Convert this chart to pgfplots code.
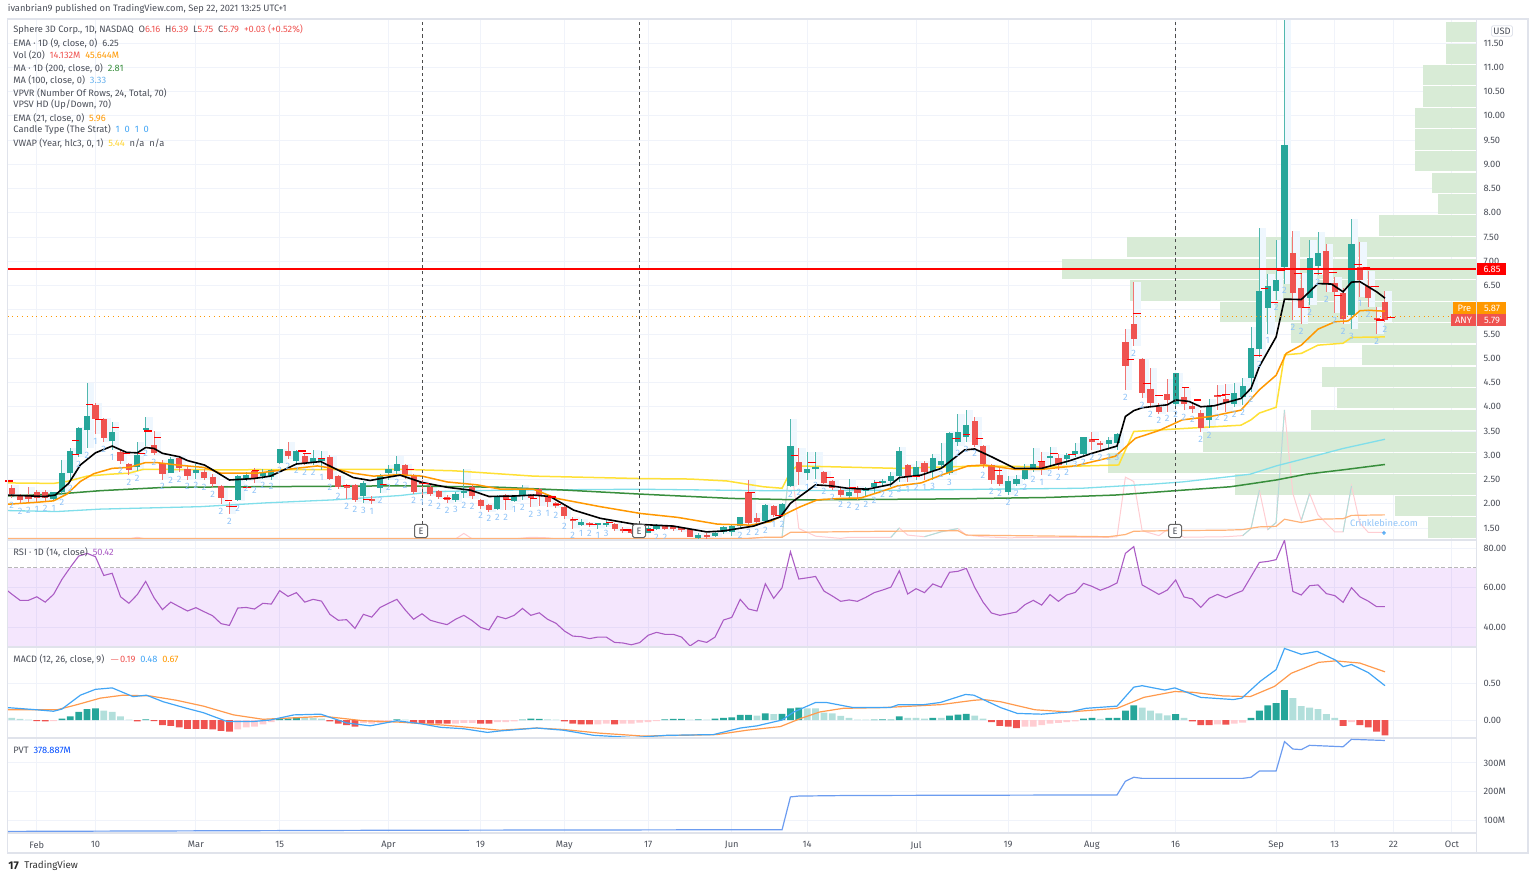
\documentclass[border=0pt]{standalone}
\usepackage{pgfplots}
\usepackage{pgfplotstable}
\usepackage{fontspec}
\pgfplotsset{compat=1.18}
\setmainfont{Fira Sans}
\definecolor{upc}{HTML}{26A69A}
\definecolor{dnc}{HTML}{EF5350}
\definecolor{ltup}{HTML}{B2DFDB}
\definecolor{ltdn}{HTML}{FFCDD2}
\definecolor{hdr}{HTML}{4A4E58}
\definecolor{frame}{HTML}{E0E3EB}
\definecolor{gridc}{HTML}{F0F3FA}
\definecolor{vp}{HTML}{D8EBD6}
\definecolor{orng}{HTML}{FF9800}
\definecolor{yel}{HTML}{FFEB3B}
\definecolor{ma2}{HTML}{388E3C}
\definecolor{ma1}{HTML}{80DEEA}
\definecolor{strat}{HTML}{90C4F8}
\definecolor{lil}{HTML}{9B1CED}
\definecolor{rsi}{HTML}{AB5CC4}
\definecolor{blu}{HTML}{42A5F5}
\definecolor{sig}{HTML}{FF9A4D}
\definecolor{pvt}{HTML}{6C9CF0}
\definecolor{shade}{HTML}{EFF7FE}
\newcommand\fs{\fontsize{4.65}{5.5}\selectfont}
\pgfplotstableread{
i o h l c s
0 2.33 2.39 2.11 2.20 2
1 2.16 2.20 1.99 2.08 2
2 2.19 2.34 2.02 2.09 2
3 2.24 2.28 2.04 2.11 1
4 2.24 2.28 2.06 2.11 2
5 2.09 2.25 2.06 2.24 1
6 2.25 2.90 2.18 2.63 2
7 2.64 3.14 2.46 3.09 2
8 3.03 3.59 2.96 3.56 2
9 3.52 4.48 3.14 3.81 2
10 4.04 4.07 3.44 3.74 1
11 3.74 3.76 3.28 3.36 2
12 3.30 3.68 3.11 3.47 1
13 3.07 3.11 2.83 2.89 2
14 2.81 2.85 2.59 2.70 2
15 2.75 3.28 2.68 3.00 2
16 3.54 3.78 3.19 3.56 2
17 3.21 3.50 3.00 3.05 2
18 2.85 2.90 2.50 2.61 2
19 2.64 2.96 2.63 2.93 2
20 2.95 2.98 2.66 2.74 2
21 2.72 2.77 2.50 2.57 2
22 2.64 2.83 2.52 2.70 2
23 2.65 2.71 2.49 2.54 2
24 2.56 2.61 2.35 2.41 2
25 2.37 2.39 1.99 2.11 2
26 1.96 2.04 1.79 1.93 2
27 2.08 2.59 2.06 2.57 2
28 2.52 2.66 2.46 2.59 2
29 2.68 2.73 2.42 2.54 2
30 2.57 2.71 2.52 2.63 2
31 2.55 2.71 2.50 2.70 2
32 2.85 3.12 2.83 3.12 2
33 3.09 3.28 2.92 2.99 2
34 2.88 3.11 2.83 3.09 2
35 2.99 3.04 2.80 2.85 2
36 2.85 3.11 2.80 2.94 2
37 2.89 3.09 2.70 2.93 1
38 2.97 3.00 2.49 2.52 2
39 2.57 2.59 2.30 2.34 2
40 2.37 2.40 2.10 2.34 2
41 2.39 2.41 2.04 2.08 2
42 2.16 2.46 2.01 2.43 3
43 2.09 2.15 1.99 2.07 1
44 2.32 2.61 2.22 2.59 2
45 2.63 2.80 2.49 2.71 2
46 2.68 2.98 2.59 2.81 2
47 2.80 2.83 2.52 2.59 2
48 2.59 2.61 2.21 2.25 2
49 2.45 2.49 2.18 2.41 1
50 2.35 2.39 2.15 2.20 2
51 2.26 2.28 2.09 2.13 2
52 2.13 2.18 2.02 2.08 2
53 2.08 2.25 2.04 2.20 3
54 2.24 2.72 2.11 2.26 2
55 2.35 2.39 2.09 2.15 2
56 2.08 2.09 1.90 1.95 2
57 1.97 1.99 1.84 1.87 2
58 1.89 2.18 1.87 2.15 2
59 2.19 2.21 1.87 2.08 2
60 2.06 2.18 2.04 2.15 1
61 2.18 2.39 2.08 2.32 2
62 2.18 2.21 1.94 2.11 2
63 2.30 2.32 1.95 2.15 3
64 2.15 2.18 1.94 2.04 1
65 2.01 2.04 1.92 1.95 2
66 1.94 1.97 1.68 1.75 2
67 1.68 1.73 1.49 1.64 2
68 1.56 1.68 1.54 1.63 1
69 1.61 1.63 1.53 1.56 2
70 1.56 1.61 1.49 1.60 1
71 1.56 1.68 1.53 1.61 3
72 1.58 1.61 1.44 1.47 2
73 1.49 1.53 1.40 1.44 2
74 1.46 1.49 1.37 1.40 2
75 1.42 1.51 1.39 1.49 2
76 1.40 1.54 1.39 1.51 2
77 1.49 1.58 1.46 1.56 2
78 1.54 1.56 1.46 1.49 2
79 1.53 1.56 1.44 1.47 2
80 1.51 1.53 1.42 1.46 2
81 1.47 1.49 1.31 1.32 2
82 1.29 1.39 1.27 1.35 2
83 1.36 1.40 1.28 1.33 2
84 1.33 1.42 1.31 1.39 2
85 1.41 1.54 1.37 1.53 1
86 1.42 1.56 1.33 1.54 1
87 1.54 1.73 1.49 1.72 2
88 2.24 2.49 1.56 1.60 2
89 1.70 1.80 1.56 1.63 2
90 1.65 1.99 1.61 1.97 2
91 1.95 1.97 1.72 1.77 1
92 1.77 2.01 1.73 1.99 2
93 2.37 3.75 2.34 3.20 2
94 2.87 3.14 2.39 2.66 2
95 2.64 3.07 2.49 2.71 1
96 2.72 3.07 2.52 2.76 2
97 2.66 2.68 2.41 2.43 2
98 2.47 2.49 2.28 2.32 2
99 2.28 2.32 2.14 2.18 2
100 2.17 2.52 2.11 2.24 2
101 2.31 2.37 2.08 2.22 2
102 2.27 2.35 2.14 2.32 2
103 2.34 2.49 2.21 2.42 2
104 2.44 2.52 2.35 2.47 2
105 2.47 2.66 2.34 2.57 2
106 2.57 3.18 2.45 3.09 3
107 2.80 2.83 2.45 2.58 1
108 2.59 2.89 2.49 2.76 2
109 2.85 2.88 2.49 2.66 1
110 2.68 3.03 2.50 2.94 3
111 2.80 3.25 2.76 2.89 2
112 2.63 3.47 2.59 3.45 3
113 3.27 3.86 3.19 3.49 2
114 3.37 3.93 3.28 3.62 2
115 3.71 3.79 3.18 3.22 2
116 3.20 3.21 2.73 2.82 2
117 2.80 2.83 2.41 2.49 2
118 2.59 2.73 2.37 2.41 2
119 2.25 2.57 2.18 2.47 2
120 2.41 2.59 2.37 2.51 2
121 2.51 2.83 2.49 2.69 2
122 2.69 3.16 2.66 2.82 2
123 2.86 3.07 2.59 2.71 1
124 2.95 3.18 2.77 2.97 2
125 2.94 3.03 2.70 2.80 2
126 2.92 3.05 2.80 3.00 2
127 3.02 3.26 2.97 3.09 3
128 3.02 3.38 3.00 3.37 2
129 3.33 3.47 3.11 3.28 2
130 3.25 3.30 3.11 3.21 2
131 3.23 3.37 3.11 3.31 2
132 3.26 3.45 3.11 3.44 3
133 5.34 5.60 4.35 4.85 2
134 5.71 6.58 5.25 5.39 2
135 4.98 5.00 4.18 4.28 2
136 4.36 4.79 4.00 4.08 2
137 4.00 4.07 3.86 3.90 2
138 4.26 4.57 3.90 4.14 2
139 4.06 4.70 4.00 4.69 2
140 4.21 4.38 3.93 4.06 2
141 4.02 4.07 3.88 3.95 2
142 3.87 3.93 3.48 3.56 2
143 3.73 4.16 3.56 3.99 2
144 4.24 4.45 3.93 4.20 2
145 4.17 4.47 3.90 4.08 2
146 4.06 4.48 4.00 4.28 2
147 4.21 4.59 4.04 4.43 2
148 4.60 5.65 4.31 5.22 2
149 5.19 7.68 5.03 6.39 2
150 6.04 6.74 5.51 6.49 1
151 6.39 7.44 6.20 6.61 2
152 6.89 12.00 6.54 9.40 2
153 7.18 7.62 5.79 6.35 2
154 6.44 6.75 5.71 6.04 2
155 6.24 7.44 6.10 7.06 2
156 6.90 7.60 6.72 7.18 2
157 7.22 7.36 6.37 6.55 2
158 6.55 6.68 5.93 6.37 2
159 6.34 6.44 5.71 5.80 2
160 5.89 7.88 5.60 7.35 3
161 6.89 7.39 6.27 6.61 1
162 6.48 6.79 6.06 6.24 2
163 5.82 6.05 5.49 5.79 2
164 6.16 6.39 5.75 5.79 2
}\C
\pgfplotstableread{
i p
-0.3 2.47
7.6 3.31
7.6 3.02
9.3 4.05
10.4 3.73
12.4 3.57
13.7 3.03
16.3 3.50
17.4 3.36
15.5 3.04
25.9 2.06
26.4 1.94
28.1 2.33
29.1 2.68
34.7 3.09
35.3 3.03
37 2.94
40 2.37
42.4 2.08
44.4 2.39
47.6 2.70
49.4 2.42
52 2.11
59.2 2.09
62.3 2.11
64.5 2.14
65.1 1.99
67.2 1.68
69.4 1.58
71.4 1.61
73.5 1.46
76.3 1.46
88.3 2.23
91.6 1.76
93.5 3.00
95.6 2.85
97.7 2.54
100.4 2.34
103.4 2.44
108 2.57
112.8 3.35
114 3.42
115.6 3.35
117.8 2.69
123 2.87
124.5 3.04
126.6 3.02
129.4 3.33
133.6 4.98
134.4 5.93
135.6 4.48
137 4.23
140.2 4.39
141.6 4.14
144.4 4.24
145 4.26
148.8 5.05
149.6 6.44
150.8 6.15
151.6 6.81
153.6 6.75
154.6 6.04
156 6.74
157.8 6.77
158.4 6.30
160.8 6.94
161.8 6.87
162.8 6.48
163.4 5.79
164.7 5.84
}\T
\pgfplotstableread{
i p
-0.5 2.18
1 2.17
4 2.15
5.2 2.18
6.8 2.42
8.2 2.80
10 3.05
12 3.19
13.7 3.06
15 3.05
16 3.16
17 3.14
18 3.04
20 2.97
21 2.89
23 2.80
24 2.70
26 2.49
28.9 2.52
30.9 2.57
32.9 2.73
34 2.82
36.9 2.87
38.8 2.71
40.8 2.54
42.8 2.48
45 2.55
46.4 2.59
49 2.44
52 2.34
54.8 2.28
57 2.15
60 2.16
62.3 2.18
64.3 2.15
67.1 1.87
70.3 1.70
74.3 1.58
79 1.54
83 1.42
85 1.44
88.6 1.54
91.8 1.73
93 2.01
96 2.39
97.8 2.37
99.8 2.32
102.2 2.30
105 2.40
106 2.54
108.6 2.59
111 2.73
113.8 3.11
115 3.13
117 2.97
119.8 2.73
123 2.73
126.4 2.89
129 3.04
132 3.19
133 3.80
134 3.92
135 3.98
138 4.04
139 4.14
140.6 4.11
142 4.00
143.6 4.02
146.8 4.17
148 4.38
149 4.83
151 5.44
152 6.22
154 6.21
156 6.54
157.6 6.53
159 6.37
160 6.57
161 6.58
163 6.37
164 6.24
}\Ea
\pgfplotstableread{
i p
-0.5 1.99
3 2.03
5 2.06
6.6 2.20
8.2 2.46
9.8 2.62
12 2.73
14 2.75
16 2.85
17.3 2.85
19.7 2.80
22.9 2.75
25 2.63
29.3 2.63
32.9 2.71
36.5 2.78
38.4 2.73
40.8 2.63
43.2 2.57
46.2 2.60
49 2.57
52 2.45
55.6 2.39
58.4 2.30
62.3 2.30
65.1 2.11
70.3 1.94
75.1 1.80
79.5 1.72
84.3 1.58
88.2 1.56
90.6 1.63
93 1.84
94.2 1.94
96.2 2.08
99 2.11
101.4 2.12
103.8 2.25
105.8 2.37
108.6 2.43
111 2.59
114.2 2.78
116.2 2.80
119.8 2.71
123 2.71
127 2.78
131.8 2.98
134.2 3.35
137 3.51
139.8 3.73
143.2 3.80
146.8 3.93
149 4.35
151 4.65
152.2 5.10
154 5.27
156 5.60
158 5.75
159.6 5.77
161 5.98
162 5.99
164 5.97
}\Eb
\pgfplotstableread{
i p
-0.5 2.43
5 2.42
6.6 2.46
9 2.57
11.8 2.61
14 2.63
15.7 2.71
25.3 2.70
46.4 2.71
52.8 2.68
62.3 2.57
75 2.52
81 2.51
85.4 2.47
89.8 2.35
92 2.32
93 2.66
93.8 2.78
105.8 2.73
115.8 2.78
123.8 2.76
132.2 2.80
134 3.49
139.8 3.55
146.8 3.62
148 3.73
149 3.87
151 3.99
152 5.07
154 5.10
156 5.27
159 5.31
160 5.43
164 5.44
}\Vw
\pgfplotstableread{
i p
-0.5 2.16
5.4 2.20
10.6 2.27
18.5 2.34
46.4 2.37
58.4 2.34
66.3 2.28
75 2.20
86 2.11
94.2 2.08
111.8 2.10
123.8 2.13
131.8 2.18
139.8 2.28
145.5 2.35
147.9 2.41
151 2.49
154.6 2.61
159 2.70
164 2.81
}\Mb
\pgfplotstableread{
i p
-0.5 1.86
5.4 1.84
10.6 1.89
22.5 1.94
30.5 2.02
38.4 2.08
46.4 2.17
50.4 2.25
58.4 2.28
75 2.30
90 2.27
105.8 2.28
127.8 2.32
135.8 2.40
139.8 2.45
145.5 2.56
147.9 2.61
151 2.78
154.6 2.94
159 3.14
164 3.33
}\Ma
\pgfplotstableread{
p left
1.51 169.1
1.95 165.2
2.40 146.1
2.84 130.9
3.28 142.3
3.73 155.2
4.18 158.3
4.61 156.5
5.07 161.2
5.52 152.8
5.95 144.3
6.40 133.5
6.84 125.4
7.29 133.2
7.74 163.3
8.18 170.3
8.62 169.6
9.07 167.6
9.51 167.6
9.95 167.6
10.40 168.5
10.84 168.5
11.28 171.3
11.73 171.3
}\VP
\pgfplotstableread{
i v
-0.5 2
14 2
15 5
16 2
53 2
54 12
55 2
60 2
62 5
64 4
65 2
88 3
90 5
92 5
93 150
94 21
96 7
99 3
100 5
103 5
105 5
106 22
107 9
109 6
111 15
113 21
114 9
116 6
119 4
124 5
131 5
132 6
133 115
134 107
135 17
137 8
138 19
140 5
145 6
147 8
148 21
149 91
150 19
151 32
152 238
153 85
154 36
155 85
156 46
158 15
159 15
160 99
161 31
162 14
164 14
}\Vol
\pgfplotstableread{
i v
92 5
93 150
nan nan
105 5
106 22
nan nan
109 6
111 15
113 21
nan nan
147 8
148 21
149 91
nan nan
150 19
151 32
152 238
nan nan
154 36
155 85
nan nan
159 15
160 99
}\VolUp
\pgfplotstableread{
i v
-0.5 3
88 3
90 5
92 5
93 14
104 16
113 17
114 9
131 6
133 10
134 16
138 17
145 18
147 19
149 24
151 25
152 38
154 32
156 38
159 39
160 45
164 46
}\VolMA
\pgfplotstableread{
i v
-0.5 58.5
0 56.8
1 53.6
2 53.6
3 55.4
4 52.7
5 56.6
6 64.2
7 70.3
8 76
9 77.4
10 75.7
11 66.2
12 67.3
13 55.4
14 52.1
15 56.5
16 63.2
17 54.9
18 48.9
19 52.7
20 50.4
21 48.2
22 49.9
23 47.8
24 45.8
25 41.8
26 40.9
27 49.7
28 50
29 49.2
30 52.1
31 51.7
32 58.5
33 55.6
34 57.5
35 52.7
36 54.1
37 53.2
38 46.5
39 43.5
40 43.8
41 39.4
42 46.5
43 45.1
44 50
45 52.1
46 54.1
47 48.7
48 44
49 46.8
50 43.5
51 42.3
52 41.3
53 44
54 46
55 43.3
56 39.9
57 38.6
58 45.5
59 44.3
60 46
61 49.5
62 46
63 47.3
64 44
65 42
66 38.1
67 35.5
68 35.2
69 34.2
70 35
71 35
72 32.3
73 32
74 31.1
75 32.2
76 35.9
77 37.4
78 36.4
79 36.4
80 35
81 30.5
82 33.3
83 32.3
84 35
85 43.6
86 45
87 54.1
88 49.2
89 48.2
90 62
91 54.6
92 60
93 78.2
94 64.4
95 65
96 65.7
97 58.3
98 55.8
99 53.1
100 53.8
101 53.1
102 55.1
103 57.5
104 58.8
105 60.3
106 68.6
107 56.8
108 59.5
109 57.5
110 61.9
111 60.2
112 67.8
113 68.3
114 69.8
115 60.2
116 52.7
117 47.2
118 46
119 46.8
120 47.7
121 51.4
122 53.6
123 51.2
124 56.5
125 53.1
126 56.3
127 57.6
128 62.2
129 60.7
130 58.7
131 60.3
132 62.4
133 77.4
134 80.8
135 61.4
136 59
137 56.6
138 58.8
139 63.9
140 55.3
141 54.3
142 50
143 54.6
144 56.6
145 54.9
146 56.8
147 58.5
148 65.6
149 72.8
150 73.3
151 74.2
152 84
153 58.1
154 56.3
155 61
156 61.4
157 57
158 56
159 52.6
160 60
161 55.4
162 53.2
163 50.4
164 50.4
}\R
\pgfplotstableread{
i h
6 .02
7 .05
8 .11
9 .15
10 .16
16 .01
32 .02
33 .02
34 .04
46 .01
61 .005
62 .02
63 .015
78 .01
79 .015
80 .015
82 .01
84 .02
85 .03
86 .035
87 .07
88 .07
90 .09
92 .085
93 .16
94 .17
103 .005
104 .01
105 .005
106 .05
110 .03
112 .06
113 .075
114 .085
128 .02
129 .03
131 .03
132 .03
133 .13
134 .20
139 .08
148 .03
149 .13
150 .20
151 .23
152 .41
}\Hup
\pgfplotstableread{
i h
0 .03
1 .015
2 .005
11 .13
12 .11
13 .05
14 .005
35 .04
36 .03
37 .02
47 .005
64 .01
65 .005
81 .005
83 .005
89 .06
91 .08
95 .16
96 .16
97 .10
98 .09
99 .055
100 .03
101 .005
102 .005
107 .03
108 .03
109 .02
111 .03
115 .06
116 .02
130 .015
135 .17
136 .13
137 .09
138 .065
140 .03
153 .30
154 .19
155 .17
156 .15
157 .08
158 .03
}\Hlu
\pgfplotstableread{
i h
3 -.015
4 -.02
15 -.02
17 -.015
18 -.07
19 -.08
20 -.10
21 -.12
22 -.12
23 -.12
24 -.13
25 -.15
26 -.16
38 -.02
39 -.05
40 -.07
41 -.09
48 -.04
49 -.04
50 -.05
51 -.05
52 -.05
56 -.05
57 -.05
66 -.02
67 -.05
68 -.06
69 -.06
72 -.06
117 -.03
118 -.08
119 -.09
120 -.11
141 -.02
142 -.07
143 -.07
145 -.065
159 -.08
161 -.07
162 -.10
163 -.16
164 -.21
}\Hdn
\pgfplotstableread{
i h
5 -.015
27 -.13
28 -.10
29 -.09
30 -.06
31 -.03
42 -.04
43 -.05
44 -.04
45 -.03
53 -.05
54 -.04
55 -.04
58 -.03
59 -.03
60 -.02
70 -.06
71 -.05
73 -.05
74 -.05
75 -.035
76 -.03
77 -.015
121 -.09
122 -.09
123 -.07
124 -.05
125 -.04
126 -.03
127 -.02
144 -.06
146 -.05
147 -.035
160 -.03
}\Hld
\pgfplotstableread{
i v
-0.5 .17
3 .14
5 .12
6 .15
8.2 .34
10 .42
12 .44
14.5 .32
16.1 .34
18.1 .25
20.9 .16
22.9 .10
25.7 -.02
28.9 -.02
30.9 0
33.7 .07
36.9 .08
40 -.04
42.8 -.08
46 -.01
48.8 -.05
51.2 -.10
54 -.12
56.8 -.17
58.3 -.15
62.7 -.11
65.9 -.14
69.5 -.21
74.2 -.24
78.2 -.21
83.8 -.20
87 -.11
89 -.08
92 0
93.4 .11
96 .24
97.3 .24
100.5 .17
104.9 .17
105.9 .21
108.9 .21
110.9 .24
113.9 .35
114.9 .34
118.1 .17
120.1 .09
123 .08
126.3 .11
128.3 .16
132 .19
134 .45
135 .47
137.7 .41
138.9 .44
142 .31
145.9 .28
146.9 .30
149.1 .53
151 .69
152 .98
154 .90
155.9 .94
158.1 .82
159 .73
160 .76
162 .65
164 .47
}\Mc
\pgfplotstableread{
i v
-0.5 .14
5.4 .14
7.8 .21
10.6 .30
13.3 .34
16.5 .33
19.7 .27
22.9 .19
26.5 .07
30 .01
33.7 .03
37.3 .05
42 -.01
46.4 -.03
51.6 -.07
58.3 -.14
62.7 -.11
65.9 -.13
70.2 -.18
75.4 -.22
84.2 -.20
87.8 -.14
91.8 -.09
94.2 .02
96.5 .11
99.3 .16
104.1 .17
110.9 .21
114.9 .27
116.1 .28
118.1 .25
122.2 .14
126.3 .11
132 .16
135.2 .31
138.9 .39
141 .38
144.6 .33
147.9 .32
150.8 .46
152.8 .64
156.1 .79
158.1 .81
161 .78
164 .66
}\Sg
\pgfplotstableread{
i v
-0.5 60
45 64
92 66
93 181
94 184
100 186
132 188
133 236
134 250
135 246
147 246
148 250
149 272
151 272
152 375
153 349
154 347
155 362
159 357
160 383
164 379
}\Pv
\newcommand\lab[3]{\node[anchor=west,inner sep=0pt,font=\fs,text=hdr] at (#1,{879-#2}) {#3};}
\pgfplotsset{pane/.style={
  scale only axis,width=734.5pt,anchor=south west,
  xmin=-0.5,xmax=174.93,
  xtick={3,10,22,32,45,56,66,76,86,95,108,119,129,139,151,158,165,172},
  xticklabels={},
  tick style={draw=none},
  major grid style={draw=gridc,line width=.5pt},
  grid=major,
  axis line style={draw=frame,line width=.6pt},
  yticklabel pos=right,
  tick label style={font=\fs,text=hdr},
  y tick label style={anchor=west,xshift=0pt},
  /pgf/number format/assume math mode=true,
}}
\begin{document}
\begin{tikzpicture}[x=.5pt,y=.5pt]
\path[use as bounding box] (0,0) rectangle (1536,879);
% main pane
\begin{axis}[pane,at={(3.75pt,169.5pt)},height=260.5pt,ymin=1.253,ymax=11.995,
  ytick={1.5,2,2.5,3,3.5,4,4.5,5,5.5,6.5,7,7.5,8,8.5,9,9.5,10,10.5,11,11.5},
  extra y ticks={6},extra y tick labels={},
  y tick label style={/pgf/number format/fixed,/pgf/number format/fixed zerofill,/pgf/number format/precision=2}]
\addplot[draw=none,mark=none,error bars/.cd,x dir=minus,x explicit,error mark=none,error bar style={line width=10.15pt,color=vp}]
  table[x expr=174.93,y=p,x error expr={174.93-\thisrow{left}}]{\VP};
\addplot[draw=none,mark=none,error bars/.cd,y dir=both,y explicit,error mark=none,error bar style={line width=3.6pt,color=shade}]
  table[x expr=\thisrow{i}+0.4,y expr={(\thisrow{h}+\thisrow{l})/2},y error expr={(\thisrow{h}-\thisrow{l})/2}]{\C};
% volume
\addplot[ltdn,line width=.5pt] table[x=i,y expr=1.253+\thisrow{v}*0.01127]{\Vol};
\addplot[ltup,line width=.5pt,unbounded coords=jump] table[x=i,y expr=1.253+\thisrow{v}*0.01127]{\VolUp};
\addplot[sig!75,line width=.6pt] table[x=i,y expr=1.253+\thisrow{v}*0.01127]{\VolMA};
% averages below candles
\addplot[ma1,line width=.65pt] table[x=i,y=p]{\Ma};
\addplot[ma2,line width=.75pt] table[x=i,y=p]{\Mb};
\addplot[yel!90!orange,line width=.75pt] table[x=i,y=p]{\Vw};
% wicks
\addplot[draw=none,mark=none,error bars/.cd,y dir=both,y explicit,error mark=none,error bar style={line width=.5pt,color=upc!80}]
  table[x=i,y expr={\thisrow{c}>=\thisrow{o}?(\thisrow{h}+\thisrow{l})/2:nan},y error expr={(\thisrow{h}-\thisrow{l})/2}]{\C};
\addplot[draw=none,mark=none,error bars/.cd,y dir=both,y explicit,error mark=none,error bar style={line width=.5pt,color=dnc!80}]
  table[x=i,y expr={\thisrow{c}<\thisrow{o}?(\thisrow{h}+\thisrow{l})/2:nan},y error expr={(\thisrow{h}-\thisrow{l})/2}]{\C};
% bodies
\addplot[draw=none,mark=none,error bars/.cd,y dir=both,y explicit,error mark=none,error bar style={line width=3.1pt,color=upc}]
  table[x=i,y expr={\thisrow{c}>=\thisrow{o}?(\thisrow{o}+\thisrow{c})/2:nan},y error expr={max(abs(\thisrow{o}-\thisrow{c})/2,0.015)}]{\C};
\addplot[draw=none,mark=none,error bars/.cd,y dir=both,y explicit,error mark=none,error bar style={line width=3.1pt,color=dnc}]
  table[x=i,y expr={\thisrow{c}<\thisrow{o}?(\thisrow{o}+\thisrow{c})/2:nan},y error expr={max(abs(\thisrow{o}-\thisrow{c})/2,0.015)}]{\C};
% red ticks
\addplot[only marks,mark=-,mark size=1.9pt,mark options={draw=red,line width=.6pt}] table[x=i,y=p]{\T};
% EMAs
\addplot[orng,line width=.75pt] table[x=i,y=p]{\Eb};
\addplot[black,line width=.8pt] table[x=i,y=p]{\Ea};
% strat numbers
\addplot[draw=none,mark=none,nodes near coords,point meta=explicit symbolic,
  nodes near coords style={anchor=center,inner sep=0pt,yshift=-3.6pt,font=\fs,text=strat}]
  table[x=i,y expr={\thisrow{l}<1.46?nan:\thisrow{l}},meta=s]{\C};
% levels
\addplot[red,line width=1pt] coordinates {(-0.5,6.85)(174.93,6.85)};
\addplot[orng,line width=.4pt,dotted] coordinates {(-0.5,5.87)(174.93,5.87)};
\addplot[black!70,line width=.4pt,dash pattern=on 1.6pt off 1.6pt] coordinates {(49,1.45)(49,11.995)};
\addplot[black!70,line width=.4pt,dash pattern=on 1.6pt off 1.6pt] coordinates {(75,1.45)(75,11.995)};
\addplot[black!70,line width=.4pt,dash pattern=on 1.6pt off 1.6pt] coordinates {(139,1.45)(139,11.995)};
\end{axis}
% RSI
\begin{axis}[pane,at={(3.75pt,116pt)},height=53.5pt,ymin=29.97,ymax=84.15,ytick={40,60,80},
  y tick label style={/pgf/number format/fixed,/pgf/number format/fixed zerofill,/pgf/number format/precision=2}]
\addplot[draw=none,fill=lil,fill opacity=.11] coordinates {(-0.5,29.97)(174.93,29.97)(174.93,70)(-0.5,70)} -- cycle;
\addplot[black!28,line width=.5pt,dash pattern=on 2pt off 1.2pt] coordinates {(-0.5,70)(174.93,70)};
\addplot[black!28,line width=.5pt,dash pattern=on 2pt off 1.2pt] coordinates {(-0.5,30.35)(174.93,30.35)};
\addplot[rsi,line width=.55pt] table[x=i,y=v]{\R};
\end{axis}
% MACD
\begin{axis}[pane,at={(3.75pt,70.5pt)},height=45.5pt,ymin=-.2466,ymax=1,ytick={0,.5},
  y tick label style={/pgf/number format/fixed,/pgf/number format/fixed zerofill,/pgf/number format/precision=2}]
\addplot[ybar,bar width=3.4pt,bar shift=0pt,fill=upc,draw=none] table[x=i,y=h]{\Hup};
\addplot[ybar,bar width=3.4pt,bar shift=0pt,fill=ltup,draw=none] table[x=i,y=h]{\Hlu};
\addplot[ybar,bar width=3.4pt,bar shift=0pt,fill=dnc,draw=none] table[x=i,y=h]{\Hdn};
\addplot[ybar,bar width=3.4pt,bar shift=0pt,fill=ltdn,draw=none] table[x=i,y=h]{\Hld};
\addplot[sig,line width=.6pt] table[x=i,y=v]{\Sg};
\addplot[blu,line width=.6pt] table[x=i,y=v]{\Mc};
\end{axis}
% PVT
\begin{axis}[pane,at={(3.75pt,23pt)},height=47.5pt,ymin=54.4,ymax=387.7,ytick={100,200,300},
  yticklabels={100M,200M,300M},
  xticklabels={Feb,10,Mar,15,Apr,19,May,17,Jun,14,Jul,19,Aug,16,Sep,13,22,Oct},
  x tick label style={yshift=-.5pt}]
\addplot[pvt,line width=.6pt] table[x=i,y=v]{\Pv};
\end{axis}
% frame
\draw[frame,line width=.6pt] (7.5,26) rectangle (1528,860);
\draw[frame,line width=.6pt] (1476.5,26) -- (1476.5,860);
% header
\lab{7.5}{9}{\textcolor{hdr}{ivanbrian9 published on TradingView.com, Sep 22, 2021 13:25 UTC+1}}
\lab{13}{30}{Sphere 3D Corp., 1D, NASDAQ\ \ O\textcolor{dnc}{6.16}\ \ H\textcolor{dnc}{6.39}\ \ L\textcolor{dnc}{5.75}\ \ C\textcolor{dnc}{5.79}\ \ \textcolor{dnc}{+0.03 (+0.52\%)}}
\lab{13}{43}{EMA · 1D (9, close, 0)\ \ 6.25}
\lab{13}{55}{Vol (20)\ \ \textcolor{dnc}{14.132M}\ \ \textcolor{orng}{45.644M}}
\lab{13}{68}{MA · 1D (200, close, 0)\ \ \textcolor{ma2}{2.81}}
\lab{13}{80}{MA (100, close, 0)\ \ \textcolor{ma1!80!blue}{3.33}}
\lab{13}{93}{VPVR (Number Of Rows, 24, Total, 70)}
\lab{13}{105}{VPSV HD (Up/Down, 70)}
\lab{13}{118}{EMA (21, close, 0)\ \ \textcolor{orng}{5.96}}
\lab{13}{130}{Candle Type (The Strat)\ \ \textcolor{blu}{1\ \ 0\ \ 1\ \ 0}}
\lab{13}{143}{VWAP (Year, hlc3, 0, 1)\ \ \textcolor{yel!80!orange}{5.44}\ \ n/a\ \ n/a}
\lab{13}{552}{RSI · 1D (14, close)\ \ \textcolor{rsi}{50.42}}
\lab{13}{659}{MACD (12, 26, close, 9)\ \ \textcolor{dnc}{$-$0.19}\ \ \textcolor{blu}{0.48}\ \ \textcolor{orng}{0.67}}
\lab{13}{750}{PVT\ \ \textcolor{blue!70!cyan}{378.887M}}
% right labels
\node[draw=frame,rounded corners=.8pt,inner sep=1pt,font=\fs,text=hdr,fill=white] at (1502,{879-31}) {USD};
\fill[red] (1477,{879-275}) rectangle (1506,{879-263});
\node[font=\fs,text=white,inner sep=0pt] at (1492,{879-269}) {6.85};
\fill[orng] (1453,{879-314}) rectangle (1476,{879-302});
\fill[orng] (1477,{879-314}) rectangle (1506,{879-302});
\node[font=\fs,text=white,inner sep=0pt] at (1464.5,{879-308}) {Pre};
\node[font=\fs,text=white,inner sep=0pt] at (1492,{879-308}) {5.87};
\fill[dnc] (1451,{879-326}) rectangle (1476,{879-314.5});
\fill[dnc] (1477,{879-326}) rectangle (1506,{879-314.5});
\node[font=\fs,text=white,inner sep=0pt] at (1463.5,{879-320}) {ANY};
\node[font=\fs,text=white,inner sep=0pt] at (1492,{879-320}) {5.79};
% E boxes
\foreach \x in {421,639,1175}{
  \node[draw=black!60,fill=white,rounded corners=.8pt,line width=.5pt,font=\fs,text=hdr,minimum width=6.5pt,minimum height=6.5pt,inner sep=0pt] at (\x,{879-531}) {E};
}
% watermark
\node[font=\fs,text=strat] at (1384,{879-523}) {Crinklebine.com};
\node[font=\fs,text=blu,inner sep=0pt] at (1384,{879-533.5}) {\textbf{+}};
% footer
\node[anchor=west,inner sep=0pt,font=\fontsize{5.6}{6}\selectfont\bfseries,text=black!85] at (8,{879-866}) {17};
\node[anchor=west,inner sep=0pt,font=\fontsize{4.9}{6}\selectfont,text=black!80] at (24,{879-866}) {TradingView};
\end{tikzpicture}
\end{document}
